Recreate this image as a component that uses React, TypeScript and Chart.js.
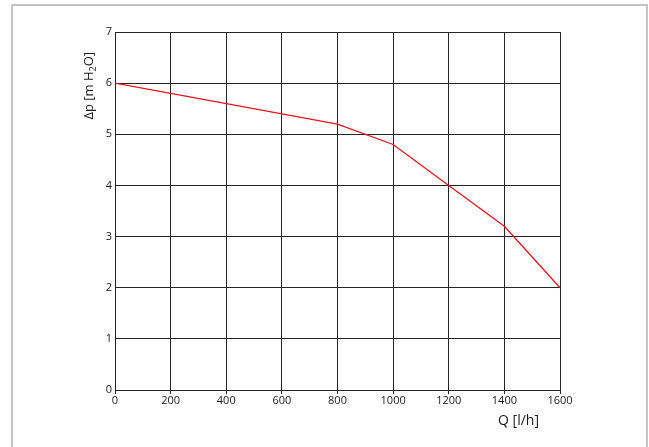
import React, { useEffect, useRef } from "react";
import { Chart, registerables } from "chart.js";

Chart.register(...registerables);

const flowValues = [0, 800, 1000, 1200, 1400, 1600];
const pressureValues = [6, 5.2, 4.8, 4, 3.2, 2];
const xTicks = [0, 200, 400, 600, 800, 1000, 1200, 1400, 1600];
const yTicks = [0, 1, 2, 3, 4, 5, 6, 7];
const xTitle = "Q [l/h]";
const yTitleMain = "Δp [m H";
const yTitleSub = "2";
const yTitleEnd = "O]";

const FONT = "'Open Sans', 'DejaVu Sans', sans-serif";

const titlesPlugin = {
  id: "axisTitles",
  afterDraw(chart: any) {
    const ctx = chart.ctx;
    const area = chart.chartArea;
    ctx.save();
    ctx.fillStyle = "#1a1a1a";
    // x title
    ctx.font = `14px ${FONT}`;
    ctx.textAlign = "right";
    ctx.textBaseline = "middle";
    ctx.fillText(xTitle, area.right - 21, area.bottom + 31);
    // y title (rotated, with subscript)
    ctx.translate(area.left - 26, area.top + 20);
    ctx.rotate(-Math.PI / 2);
    ctx.textAlign = "left";
    ctx.textBaseline = "middle";
    ctx.font = `13px ${FONT}`;
    const w1 = ctx.measureText(yTitleMain).width;
    ctx.font = `9px ${FONT}`;
    const w2 = ctx.measureText(yTitleSub).width;
    ctx.font = `13px ${FONT}`;
    const w3 = ctx.measureText(yTitleEnd).width;
    const total = w1 + w2 + w3;
    let x = -total;
    ctx.fillText(yTitleMain, x, 0);
    x += w1;
    ctx.font = `9px ${FONT}`;
    ctx.fillText(yTitleSub, x, 4);
    x += w2;
    ctx.font = `13px ${FONT}`;
    ctx.fillText(yTitleEnd, x, 0);
    ctx.restore();
  },
};

export default function App() {
  const canvasRef = useRef<HTMLCanvasElement | null>(null);

  useEffect(() => {
    document.body.style.margin = "0";
    const canvas = canvasRef.current;
    if (!canvas) return;
    const chart = new Chart(canvas, {
      type: "line",
      data: {
        datasets: [
          {
            data: flowValues.map((q, i) => ({ x: q, y: pressureValues[i] })),
            borderColor: "#e8141c",
            borderWidth: 1.3,
            pointRadius: 0,
            tension: 0,
            fill: false,
          },
        ],
      },
      options: {
        animation: false,
        responsive: false,
        maintainAspectRatio: false,
        layout: { padding: { left: 0, top: 32, right: 89, bottom: 0 } },
        plugins: { legend: { display: false }, tooltip: { enabled: false } },
        scales: {
          x: {
            type: "linear",
            min: 0,
            max: 1600,
            afterFit: (s: any) => {
              s.height = 57;
            },
            afterBuildTicks: (s: any) => {
              s.ticks = xTicks.map((v) => ({ value: v }));
            },
            grid: {
              color: "#262626",
              lineWidth: 1,
              drawTicks: true,
              tickLength: 4,
              tickColor: "#262626",
            },
            border: { color: "#262626", width: 1 },
            ticks: {
              color: "#1a1a1a",
              font: { family: FONT, size: 11 },
              padding: 0,
              maxRotation: 0,
              autoSkip: false,
              callback: (v: any) => String(v),
            },
          },
          y: {
            type: "linear",
            min: 0,
            max: 7,
            afterFit: (s: any) => {
              s.width = 115;
            },
            afterBuildTicks: (s: any) => {
              s.ticks = yTicks.map((v) => ({ value: v }));
            },
            grid: { color: "#262626", lineWidth: 1, drawTicks: false },
            border: { color: "#262626", width: 1 },
            ticks: {
              color: "#1a1a1a",
              font: { family: FONT, size: 11 },
              padding: 3,
              autoSkip: false,
              callback: (v: any) => String(v),
            },
          },
        },
      },
      plugins: [titlesPlugin],
    });
    return () => chart.destroy();
  }, []);

  return (
    <div
      style={{
        position: "fixed",
        left: 0,
        top: 0,
        width: 649,
        height: 447,
        background: "#fff",
        overflow: "hidden",
      }}
    >
      <div
        style={{
          position: "absolute",
          left: 11,
          top: 4,
          width: 633,
          height: 500,
          borderLeft: "2px solid #c4c4c4",
          borderRight: "2px solid #c4c4c4",
          borderTop: "2px solid #c4c4c4",
          boxSizing: "content-box",
        }}
      />
      <canvas
        ref={canvasRef}
        width={649}
        height={447}
        style={{ position: "absolute", left: 0, top: 0, width: 649, height: 447 }}
      />
    </div>
  );
}
